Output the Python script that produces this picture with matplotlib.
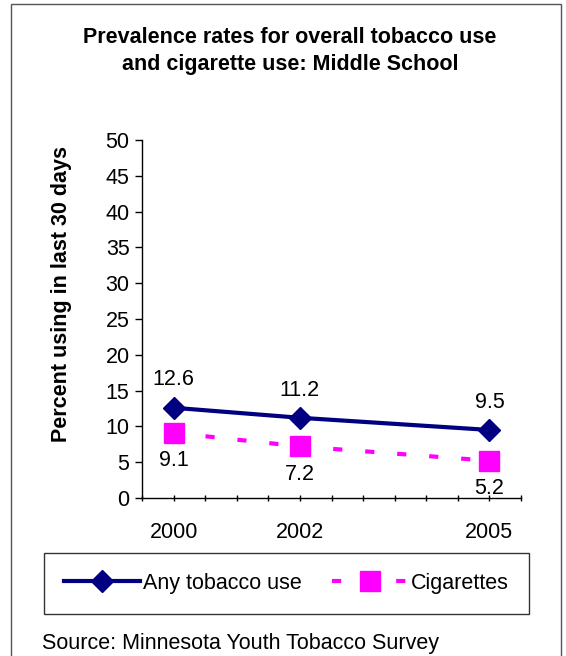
import matplotlib.pyplot as plt
import matplotlib.patches as patches

plt.rcParams['font.family'] = ['Liberation Sans', 'DejaVu Sans']

# survey years and prevalence (%)
years = [2000, 2002, 2005]
tobacco = [12.6, 11.2, 9.5]
cigarettes = [9.1, 7.2, 5.2]
year_labels = ["2000", "2002", "2005"]

navy = "#000080"
pink = "#ff00ff"
fs = 15.5

fig = plt.figure(figsize=(5.66, 6.56), dpi=100)
ax = fig.add_axes([0.2509, 0.2409, 0.6696, 0.5457])

ax.plot(years, tobacco, color=navy, lw=3, marker="D", markersize=11,
        label="Any tobacco use")
ax.plot(years, cigarettes, color=pink, lw=3, marker="s", markersize=14,
        dashes=(2.2, 5.5), dash_capstyle="butt", label="Cigarettes")

for x, v in zip(years, tobacco):
    ax.annotate(str(v), (x, v), xytext=(0, 20), textcoords="offset points",
                ha="center", va="center", fontsize=fs)
for x, v in zip(years, cigarettes):
    ax.annotate(str(v), (x, v), xytext=(0, -20), textcoords="offset points",
                ha="center", va="center", fontsize=fs)

ax.set_xlim(1999.5, 2005.5)
ax.set_ylim(0, 50)
ax.set_yticks(range(0, 51, 5))
ax.set_xticks(years)
ax.set_xticklabels(year_labels)
ax.set_xticks([1999.5 + 0.5 * i for i in range(13)], minor=True)
ax.tick_params(axis="x", which="both", length=5, direction="inout", width=1)
ax.tick_params(axis="x", which="major", pad=15, labelsize=fs)
ax.tick_params(axis="y", length=5, width=1, labelsize=fs, pad=4)
for s in ["top", "right"]:
    ax.spines[s].set_visible(False)
ax.spines["left"].set_linewidth(1)
ax.spines["bottom"].set_linewidth(1)

ax.set_ylabel("Percent using in last 30 days", fontsize=fs, fontweight="bold")
ax.yaxis.set_label_coords(-0.185, 0.57)

fig.text(0.512, 0.922, "Prevalence rates for overall tobacco use\nand cigarette use: Middle School",
         ha="center", va="center", fontsize=fs, fontweight="bold", linespacing=1.4)

leg = fig.legend(loc="center", bbox_to_anchor=(0.506, 0.1105), ncol=2,
                 fontsize=fs, handlelength=3.5, columnspacing=1.4,
                 fancybox=False, edgecolor="black", borderpad=0.95,
                 handletextpad=0.15)
leg.get_frame().set_linewidth(1)

fig.text(0.074, 0.0198, "Source: Minnesota Youth Tobacco Survey", ha="left",
         va="center", fontsize=fs)

fig.patches.append(patches.Rectangle((11 / 566, -0.05), 550 / 566, 1.05 - 4.5 / 656,
                                     transform=fig.transFigure, fill=False,
                                     edgecolor="#555555", lw=1))

fig.savefig("out.png", dpi=100)
